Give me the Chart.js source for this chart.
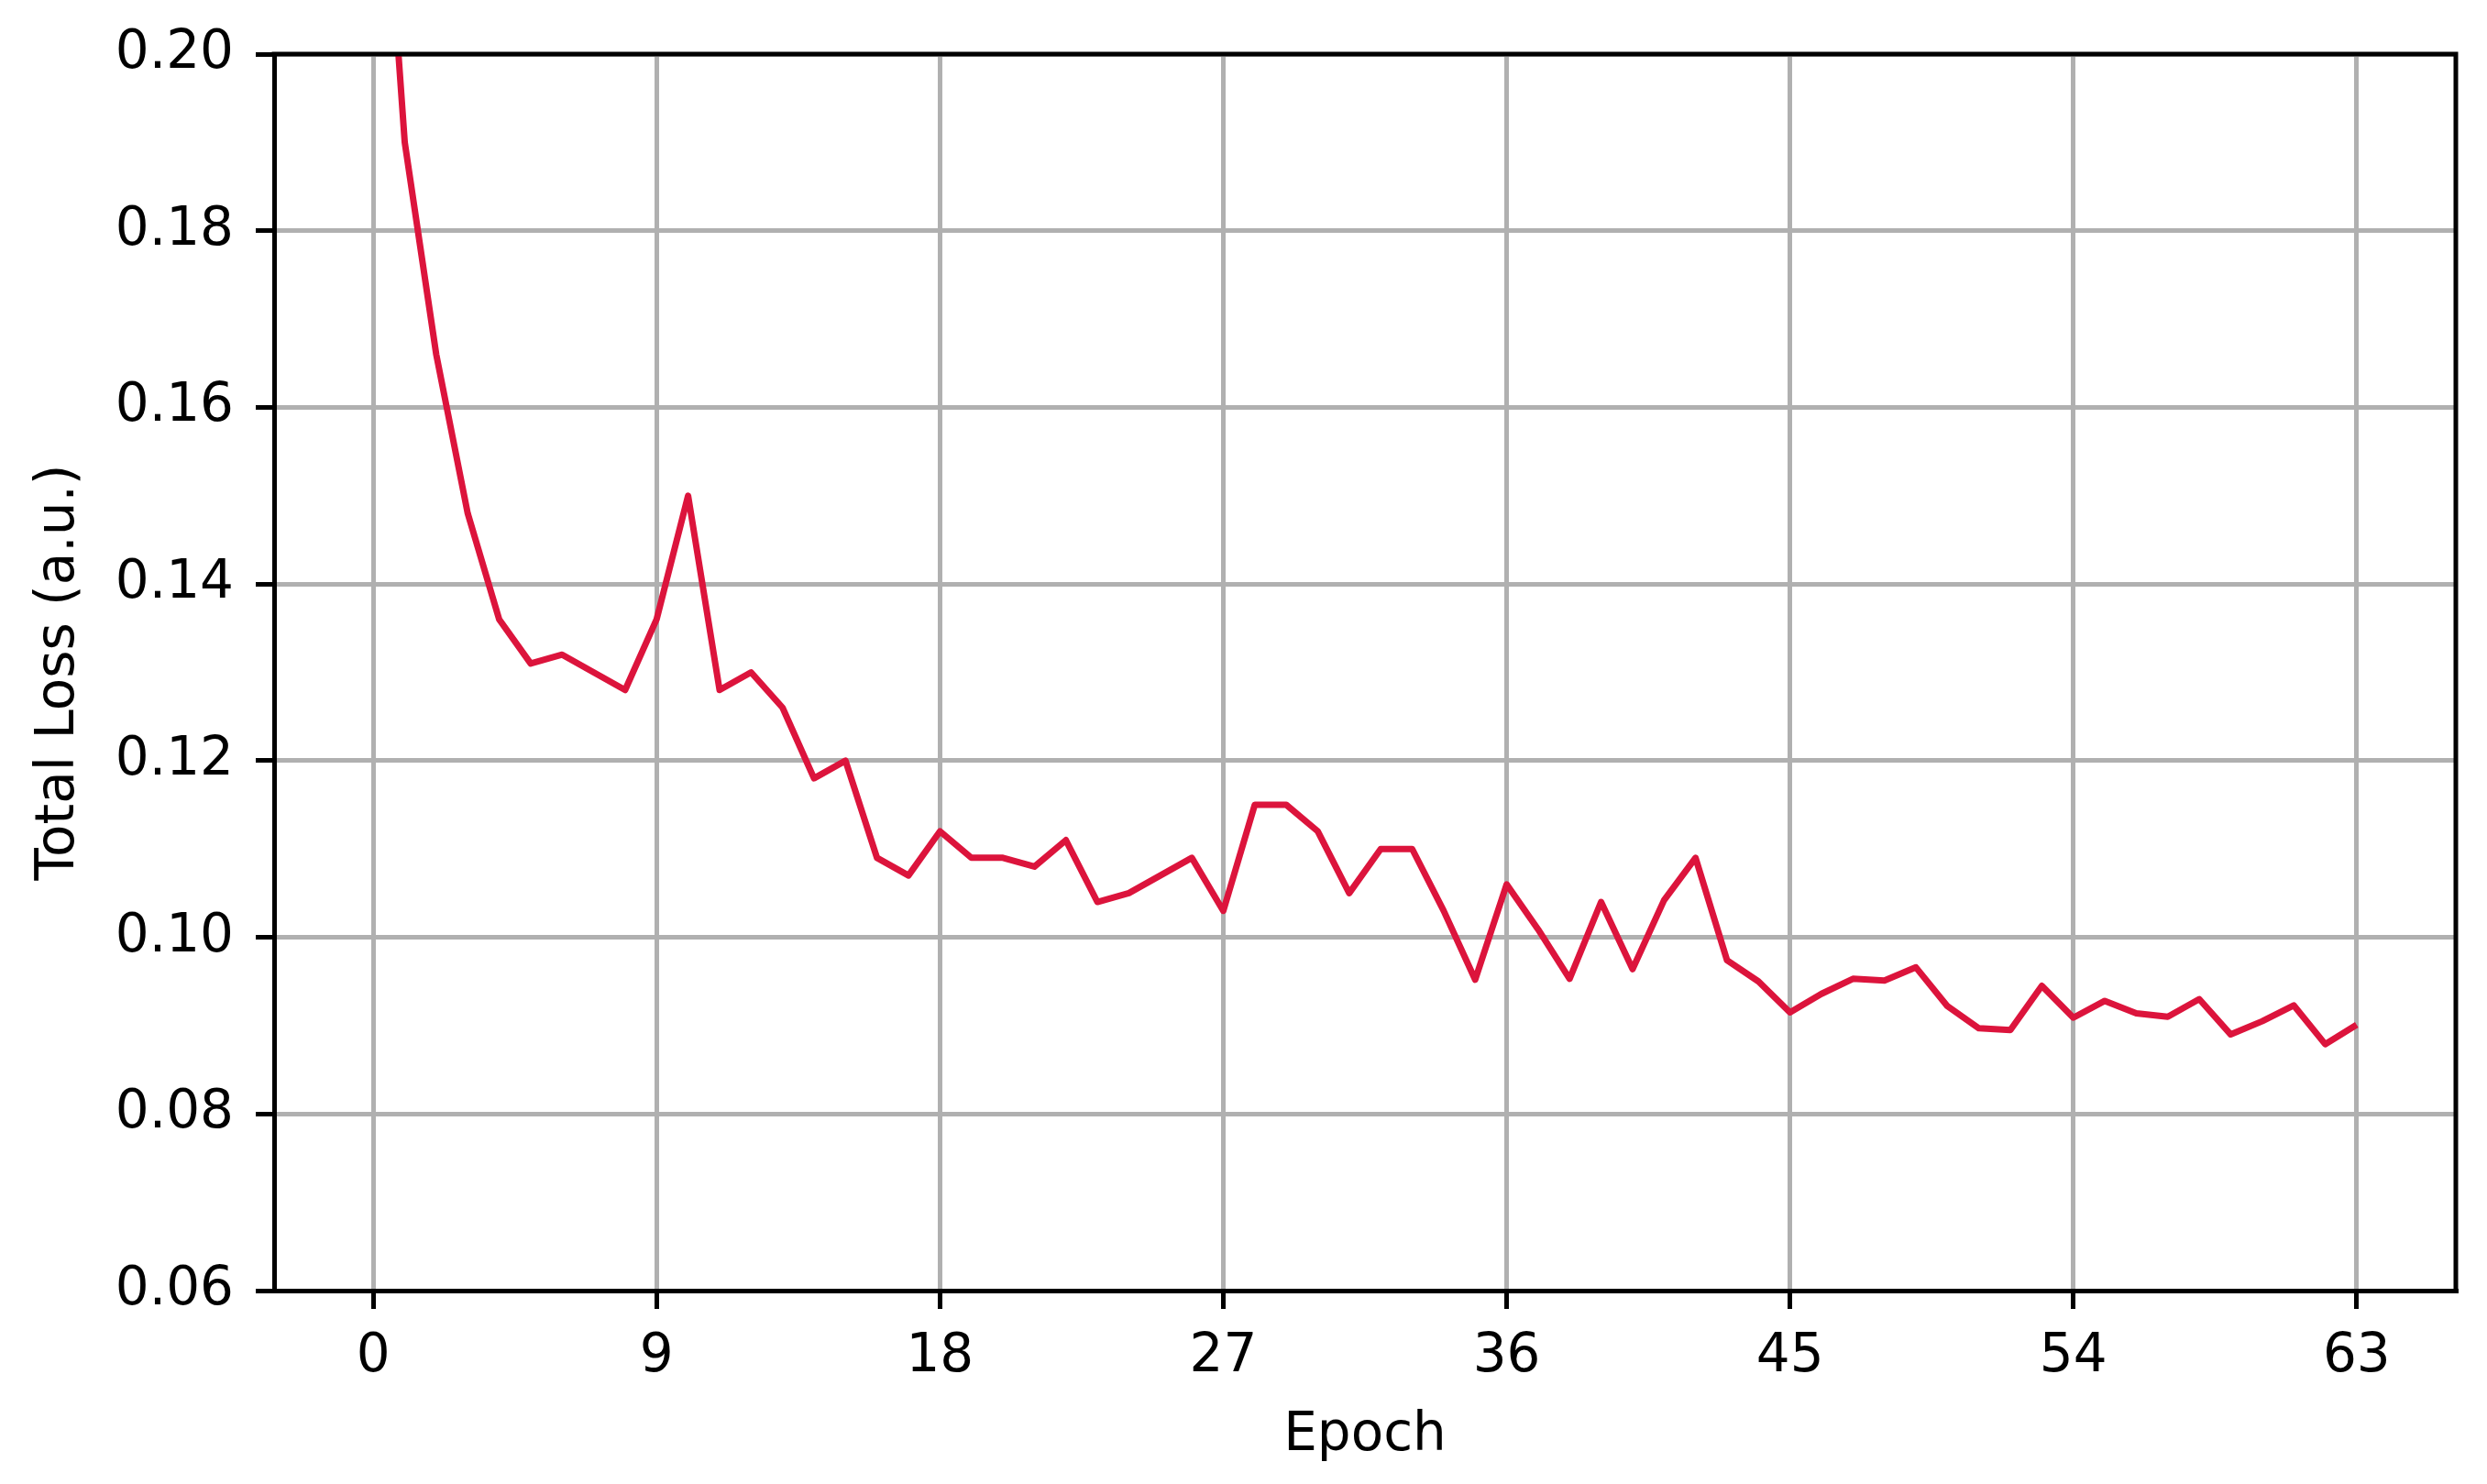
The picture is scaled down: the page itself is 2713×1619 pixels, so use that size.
<!DOCTYPE html>
<html lang="en">
  <head>
    <meta charset="utf-8" />
    <title>Total Loss</title>
    <style>
      * {
        margin: 0;
        padding: 0;
      }
      body {
        background: #ffffff;
      }
      .chartBox {
        width: 2713px;
        height: 1619px;
      }
    </style>
  </head>
  <body>
    <div class="chartBox">
      <canvas id="lossChart" width="2713" height="1619"></canvas>
    </div>
    <script src="https://cdn.jsdelivr.net/npm/chart.js/dist/chart.umd.min.js"></script>
    <script>
      const epochs = [
        0, 1, 2, 3, 4, 5, 6, 7, 8, 9, 10, 11, 12, 13, 14, 15, 16, 17, 18, 19,
        20, 21, 22, 23, 24, 25, 26, 27, 28, 29, 30, 31, 32, 33, 34, 35, 36, 37,
        38, 39, 40, 41, 42, 43, 44, 45, 46, 47, 48, 49, 50, 51, 52, 53, 54, 55,
        56, 57, 58, 59, 60, 61, 62, 63,
      ];
      const totalLoss = [
        0.24, 0.19, 0.166, 0.148, 0.136, 0.131, 0.132, 0.13, 0.128, 0.136,
        0.15, 0.128, 0.13, 0.126, 0.118, 0.12, 0.109, 0.107, 0.112, 0.109,
        0.109, 0.108, 0.111, 0.104, 0.105, 0.107, 0.109, 0.103, 0.115, 0.115,
        0.112, 0.105, 0.11, 0.11, 0.103, 0.0952, 0.106, 0.1009, 0.0953, 0.104,
        0.0964, 0.1042, 0.109, 0.0974, 0.095, 0.0915, 0.0936, 0.0953, 0.0951, 0.0966,
        0.0922, 0.0897, 0.0895, 0.0945, 0.0909, 0.0928, 0.0914, 0.091, 0.093, 0.089,
        0.0905, 0.0923, 0.0879, 0.0901,
      ];
      const xTicks = [0, 9, 18, 27, 36, 45, 54, 63];
      const yTicks = [0.06, 0.08, 0.1, 0.12, 0.14, 0.16, 0.18, 0.2];

      const font = { family: "DejaVu Sans", size: 58 };

      // top and right spines (Chart.js only draws the axis borders)
      const frame = {
        id: "frame",
        afterDraw(chart) {
          const { ctx, chartArea: a } = chart;
          ctx.save();
          ctx.strokeStyle = "#000";
          ctx.lineWidth = 5;
          ctx.lineCap = "square";
          ctx.beginPath();
          ctx.moveTo(a.left, a.top);
          ctx.lineTo(a.right, a.top);
          ctx.lineTo(a.right, a.bottom);
          ctx.stroke();
          ctx.restore();
        },
      };

      const data = {
        datasets: [
          {
            label: "Total Loss",
            data: epochs.map((e, i) => ({ x: e, y: totalLoss[i] })),
            borderColor: "#dc143c",
            borderWidth: 7,
            borderJoinStyle: "round",
            pointRadius: 0,
            tension: 0,
            clip: 0,
          },
        ],
      };

      const config = {
        type: "line",
        data,
        plugins: [frame],
        options: {
          responsive: false,
          animation: false,
          devicePixelRatio: 1,
          layout: {
            padding: { left: 0, right: 34, top: 59, bottom: 0 },
          },
          plugins: {
            legend: { display: false },
            tooltip: { enabled: false },
          },
          scales: {
            x: {
              type: "linear",
              min: -3.15,
              max: 66.15,
              afterBuildTicks(scale) {
                scale.ticks = xTicks.map((v) => ({ value: v }));
              },
              afterFit(scale) {
                scale.height = 211;
              },
              grid: {
                color: "#b0b0b0",
                lineWidth: 5,
                tickColor: "#000",
                tickWidth: 5,
                tickLength: 20,
              },
              border: { color: "#000", width: 5 },
              ticks: {
                color: "#000",
                font,
                padding: 18,
                maxRotation: 0,
                callback: (v) => v,
              },
              title: {
                display: true,
                text: "Epoch",
                color: "#000",
                font,
                padding: { top: 0, bottom: 17 },
              },
            },
            y: {
              min: 0.06,
              max: 0.2,
              afterBuildTicks(scale) {
                scale.ticks = yTicks.map((v) => ({ value: v }));
              },
              afterFit(scale) {
                scale.width = 299;
              },
              grid: {
                color: "#b0b0b0",
                lineWidth: 5,
                tickColor: "#000",
                tickWidth: 5,
                tickLength: 20,
              },
              border: { color: "#000", width: 5 },
              ticks: {
                color: "#000",
                font,
                padding: 24,
                callback: (v) => v.toFixed(2),
              },
              title: {
                display: true,
                text: "Total Loss (a.u.)",
                color: "#000",
                font,
                padding: { top: 30, bottom: 0 },
              },
            },
          },
        },
      };

      new Chart(document.getElementById("lossChart"), config);
    </script>
  </body>
</html>
